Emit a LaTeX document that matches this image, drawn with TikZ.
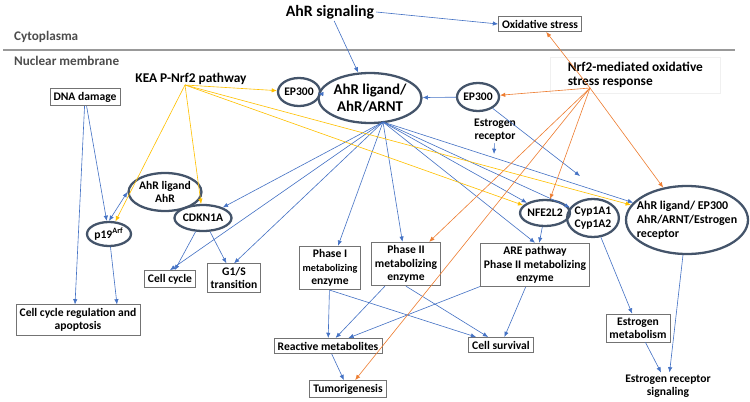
\documentclass[tikz,border=0pt]{standalone}
\usepackage{fontspec}
\setmainfont{Carlito}
\usetikzlibrary{shapes.geometric,arrows.meta}
\definecolor{linkblue}{HTML}{4472C4}
\definecolor{linkorange}{HTML}{ED7D31}
\definecolor{linkyellow}{HTML}{FFC000}
\definecolor{ringgray}{HTML}{44546A}
\tikzset{
	lab/.style={font=\bfseries\fontsize{6.6}{7.6}\selectfont,align=center,inner sep=1pt},
	box/.style={lab,draw=black!55,rectangle,inner sep=2pt,thin},
	ring/.style={lab,draw=ringgray,ellipse,line width=1.3pt,inner sep=0pt},
	blue/.style={-{Latex[length=3pt,width=2.5pt]},linkblue,line width=0.35pt},
	orange/.style={-{Latex[length=3pt,width=2.5pt]},linkorange,line width=0.35pt},
	yellow/.style={-{Latex[length=3pt,width=2.5pt]},linkyellow,line width=0.35pt}
}
\begin{document}
\begin{tikzpicture}[x=0.02cm,y=-0.02cm]
		\useasboundingbox (0,0) rectangle (750,402);
		\draw [black!40,line width=1.2pt] (3,50) -- (735,50);
		\node [lab,anchor=west,text=black!70,font=\bfseries\fontsize{7.5}{9}\selectfont] (cyto) at (12,37) {Cytoplasma};
		\node [lab,anchor=west,text=black!70,font=\bfseries\fontsize{7.5}{9}\selectfont] (membrane) at (12,61) {Nuclear membrane};

		% top level
		\node [lab,font=\bfseries\fontsize{9}{11}\selectfont] (signal) at (330,12) {AhR signaling};
		\node [box] (oxstress) at (540,24) {Oxidative stress};
		\node [lab,font=\bfseries\fontsize{7.6}{9}\selectfont] (kea) at (191,79) {KEA P-Nrf2 pathway};
		\node [lab,align=left,anchor=west,font=\bfseries\fontsize{7.6}{8}\selectfont,draw=black!6,inner sep=3pt,minimum width=3.4cm] (nrf) at (550,75) {Nrf2-mediated oxidative\\stress response};

		% rings
		\node [ring,minimum width=0.84cm,minimum height=0.56cm] (ep300l) at (299,92) {EP300};
		\node [ring,minimum width=2cm,minimum height=1cm,font=\bfseries\fontsize{8.5}{10}\selectfont] (arnt) at (370,98) {AhR ligand/\\AhR/ARNT};
		\node [ring,minimum width=0.84cm,minimum height=0.56cm] (ep300r) at (478,97) {EP300};
		\node [lab] (esr) at (495,130) {Estrogen\\receptor};
		\node [ring,minimum width=1.04cm,minimum height=0.76cm] (ahr) at (165,192) {AhR ligand\\AhR};
		\node [ring,minimum width=0.86cm,minimum height=0.52cm] (cdkn) at (203,218) {CDKN1A};
		\node [ring,minimum width=0.88cm,minimum height=0.48cm] (p19) at (109,234) {p19\textsuperscript{Arf}};
		\node [ring,minimum width=0.92cm,minimum height=0.52cm] (nfe) at (545,213) {NFE2L2};
		\node [ring,minimum width=1cm,minimum height=0.76cm] (cyp) at (593,218) {Cyp1A1\\Cyp1A2};
		\node [ring,minimum width=2.44cm,minimum height=1.36cm,align=left,font=\bfseries\fontsize{6.8}{8}\selectfont,inner sep=-4pt] (complex) at (687,220) {AhR ligand/ EP300\\AhR/ARNT/Estrogen\\receptor};

		% boxes
		\node [box] (dna) at (85,97) {DNA damage};
		\node [box] (cycle) at (170,279) {Cell cycle};
		\node [box] (g1s) at (234,278) {G1/S\\transition};
		\node [box] (phase1) at (330,268) {Phase I\\{\fontsize{5.8}{7}\selectfont metabolizing}\\enzyme};
		\node [box] (phase2) at (406,264) {Phase II\\metabolizing\\enzyme};
		\node [box] (are) at (535,265) {ARE pathway\\Phase II metabolizing\\enzyme};
		\node [box] (apopt) at (78,320) {Cell cycle regulation and\\apoptosis};
		\node [box] (reactive) at (328,346) {Reactive metabolites};
		\node [box] (survival) at (501,345) {Cell survival};
		\node [box] (tumor) at (348,389) {Tumorigenesis};
		\node [box] (estmet) at (638,328) {Estrogen\\metabolism};
		\node [lab] (ersig) at (668,386) {Estrogen receptor\\signaling};

		\coordinate (arntfoot) at (383,122);
		\coordinate (ep300end) at (580,176);
		\coordinate (esrend) at (494,154);
		\coordinate (nrfroot) at (590,88);
		\coordinate (kearoot) at (185,85);

		% blue links
		\draw [blue] (signal) -- (arnt);
		\draw [blue] (signal.east) -- (oxstress.west);
		\draw [blue] (ep300l) -- (arnt);
		\draw [blue] (ep300r) -- (arnt);
		\draw [blue] (ep300r) -- (ep300end);
		\draw [blue] (esr) -- (esrend);
		\foreach \t in {cdkn,cycle.north,g1s.north,phase1,phase2,nfe,are.north,cyp,complex}
			\draw [blue] (arntfoot) -- (\t);
		\draw [blue] (dna) -- (apopt.north -| 75,0);
		\draw [blue] (dna) -- (p19);
		\draw [blue,{Latex[length=3pt,width=2.5pt]}-{Latex[length=3pt,width=2.5pt]}] (p19.north) -- (ahr.west);
		\draw [blue] (p19) -- (apopt.north -| 117,0);
		\draw [blue] (cdkn) -- (cycle);
		\draw [blue] (cdkn) -- (g1s);
		\draw [blue] (phase1) -- (reactive);
		\draw [blue] (phase1.south) -- (survival);
		\draw [blue] (phase2) -- (reactive);
		\draw [blue] (phase2.south) -- (survival);
		\draw [blue] (are) -- (reactive);
		\draw [blue] (are) -- (survival);
		\draw [blue] (nfe) -- (are);
		\draw [blue] (reactive) -- (tumor);
		\draw [blue] (cyp) -- (estmet);
		\draw [blue] (estmet) -- (ersig);
		\draw [blue] (complex) -- (ersig);

		% yellow links
		\foreach \t in {ep300l,p19,cdkn,nfe,complex}
			\draw [yellow] (kearoot) -- (\t);

		% orange links
		\draw [orange] (nrfroot) -- (oxstress);
		\draw [orange] (nrfroot) -- (ep300r);
		\foreach \t in {complex,nfe,phase2,tumor}
			\draw [orange] (nrfroot) -- (\t);
	\end{tikzpicture}
\end{document}
